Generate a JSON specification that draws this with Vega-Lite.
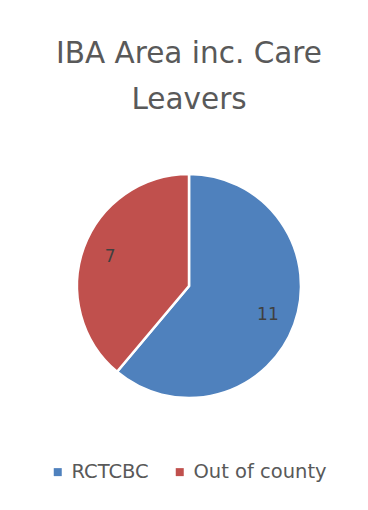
{
  "$schema": "https://vega.github.io/schema/vega-lite/v6.json",
  "width": 224,
  "height": 224,
  "autosize": "none",
  "padding": {"left": 77, "top": 174, "right": 67, "bottom": 112},
  "background": "white",
  "title": {
    "text": ["IBA Area inc. Care", "Leavers"],
    "font": "DejaVu Sans",
    "fontSize": 29.5,
    "fontWeight": "normal",
    "color": "#595959",
    "lineHeight": 46,
    "anchor": "middle",
    "offset": 54
  },
  "data": {
    "values": [
      {"category": "RCTCBC", "value": 11},
      {"category": "Out of county", "value": 7}
    ]
  },
  "encoding": {
    "theta": {"field": "value", "type": "quantitative", "stack": true},
    "order": {"field": "value", "type": "quantitative", "sort": "descending"}
  },
  "layer": [
    {
      "mark": {"type": "arc", "stroke": "white", "strokeWidth": 2.5},
      "encoding": {
        "color": {
          "field": "category",
          "type": "nominal",
          "sort": ["RCTCBC", "Out of county"],
          "scale": {"domain": ["RCTCBC", "Out of county"], "range": ["#4f81bd", "#c0504d"]},
          "legend": {
            "orient": "none",
            "legendX": -29,
            "legendY": 288,
            "direction": "horizontal",
            "title": null,
            "symbolType": "square",
            "symbolSize": 64,
            "symbolStrokeWidth": 0,
            "labelFont": "DejaVu Sans",
            "labelFontSize": 19.5,
            "labelColor": "#595959",
            "columnPadding": 21,
            "labelOffset": 4
          }
        }
      }
    },
    {
      "mark": {"type": "text", "radius": 84, "font": "DejaVu Sans", "fontSize": 17, "color": "#404040"},
      "encoding": {
        "text": {"field": "value", "type": "quantitative"}
      }
    }
  ],
  "config": {"view": {"stroke": null}}
}
